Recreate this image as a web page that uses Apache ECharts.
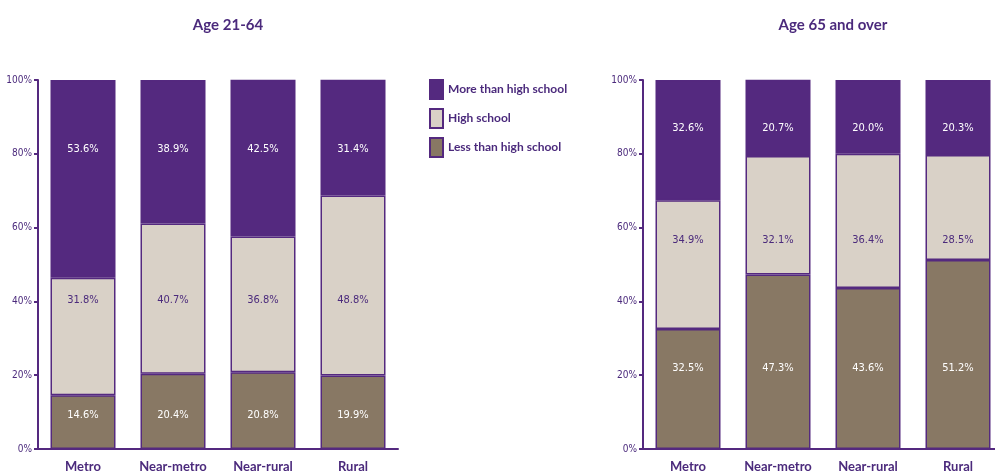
<!DOCTYPE html>
<html><head><meta charset="utf-8">
<script src="https://cdn.jsdelivr.net/npm/echarts@6/dist/echarts.min.js"></script>
<style>html,body{margin:0;padding:0;background:#fff}#c{width:995px;height:475px}</style>
</head><body><div id="c"></div>
<script>
const categories = ['Metro', 'Near-metro', 'Near-rural', 'Rural'];
const seriesNames = ['More than high school', 'High school', 'Less than high school'];
const lessHS_21_64 = [14.6, 20.4, 20.8, 19.9];
const hs_21_64 = [31.8, 40.7, 36.8, 48.8];
const moreHS_21_64 = [53.6, 38.9, 42.5, 31.4];
const lessHS_65 = [32.5, 47.3, 43.6, 51.2];
const hs_65 = [34.9, 32.1, 36.4, 28.5];
const moreHS_65 = [32.6, 20.7, 20.0, 20.3];
const yTicks = [0, 20, 40, 60, 80, 100];

const PURPLE = '#54297F';
const TEXT = '#4B2A7C';
const BEIGE = '#D9D1C7';
const BROWN = '#887864';
const FONT = 'Lato, "Open Sans", sans-serif';
const NARROW = '"DejaVu Sans Condensed", "Liberation Sans Narrow", Lato, sans-serif';

// label anchor levels (in axis %), per panel, per segment: [less, hs, more]
const labelLevels = [[9.2, 40.4, 81.3], [22, 56.6, 87]];

function segData(values, bases, level) {
  return values.map((v, i) => ({
    value: v,
    label: { position: ['50%', ((bases[i] + v - level) / v * 100) + '%'] }
  }));
}

function panelSeries(idx, less, hs, more) {
  const zero = less.map(() => 0);
  const b2 = less.slice();
  const b3 = less.map((v, i) => v + hs[i]);
  const lv = labelLevels[idx];
  const common = {
    type: 'bar', stack: 'p' + idx, xAxisIndex: idx, yAxisIndex: idx, barWidth: 65,
    itemStyle: { borderColor: PURPLE, borderWidth: 1.5 },
    label: { show: true, align: 'center', verticalAlign: 'middle', fontSize: 11,
      fontFamily: NARROW, formatter: p => p.value.toFixed(1) + '%' }
  };
  return [
    Object.assign({}, common, { name: seriesNames[2], data: segData(less, zero, lv[0]),
      itemStyle: Object.assign({}, common.itemStyle, { color: BROWN }),
      label: Object.assign({}, common.label, { color: '#fff' }) }),
    Object.assign({}, common, { name: seriesNames[1], data: segData(hs, b2, lv[1]),
      itemStyle: Object.assign({}, common.itemStyle, { color: BEIGE }),
      label: Object.assign({}, common.label, { color: TEXT }) }),
    Object.assign({}, common, { name: seriesNames[0], data: segData(more, b3, lv[2]),
      itemStyle: Object.assign({}, common.itemStyle, { color: PURPLE }),
      label: Object.assign({}, common.label, { color: '#fff' }) })
  ];
}

const yAxisBase = {
  type: 'value', min: yTicks[0], max: yTicks[yTicks.length - 1], interval: yTicks[1] - yTicks[0],
  axisLine: { show: true, lineStyle: { color: PURPLE, width: 2 } },
  axisTick: { show: true, length: 4, lineStyle: { color: PURPLE, width: 2 } },
  splitLine: { show: false },
  axisLabel: { formatter: '{value}%', color: TEXT, fontSize: 10, margin: 6, fontFamily: NARROW }
};
const xAxisBase = {
  type: 'category', data: categories,
  axisLine: { show: true, lineStyle: { color: PURPLE, width: 2 } },
  axisTick: { show: false },
  axisLabel: { color: TEXT, fontSize: 13, fontWeight: 'bold', margin: 11, fontFamily: FONT }
};

const chart = echarts.init(document.getElementById('c'), null, { renderer: 'canvas' });
chart.setOption({
  animation: false,
  backgroundColor: '#fff',
  title: [
    { text: 'Age 21-64', left: 223, top: 13, textAlign: 'center',
      textStyle: { color: TEXT, fontSize: 15, fontWeight: 'bold', fontFamily: FONT } },
    { text: 'Age 65 and over', left: 828, top: 13, textAlign: 'center',
      textStyle: { color: TEXT, fontSize: 15, fontWeight: 'bold', fontFamily: FONT } }
  ],
  legend: {
    data: seriesNames, orient: 'vertical', left: 424, top: 74,
    itemWidth: 13, itemHeight: 19, itemGap: 8, icon: 'rect',
    textStyle: { color: TEXT, fontSize: 12, fontWeight: 'bold', fontFamily: FONT }
  },
  grid: [
    { left: 38, top: 80, width: 360, height: 369, outerBoundsMode: 'none', containLabel: false },
    { left: 643, top: 80, width: 360, height: 369, outerBoundsMode: 'none', containLabel: false }
  ],
  xAxis: [Object.assign({ gridIndex: 0 }, xAxisBase), Object.assign({ gridIndex: 1 }, xAxisBase)],
  yAxis: [Object.assign({ gridIndex: 0 }, yAxisBase), Object.assign({ gridIndex: 1 }, yAxisBase)],
  series: [].concat(
    panelSeries(0, lessHS_21_64, hs_21_64, moreHS_21_64),
    panelSeries(1, lessHS_65, hs_65, moreHS_65)
  )
});
</script></body></html>
